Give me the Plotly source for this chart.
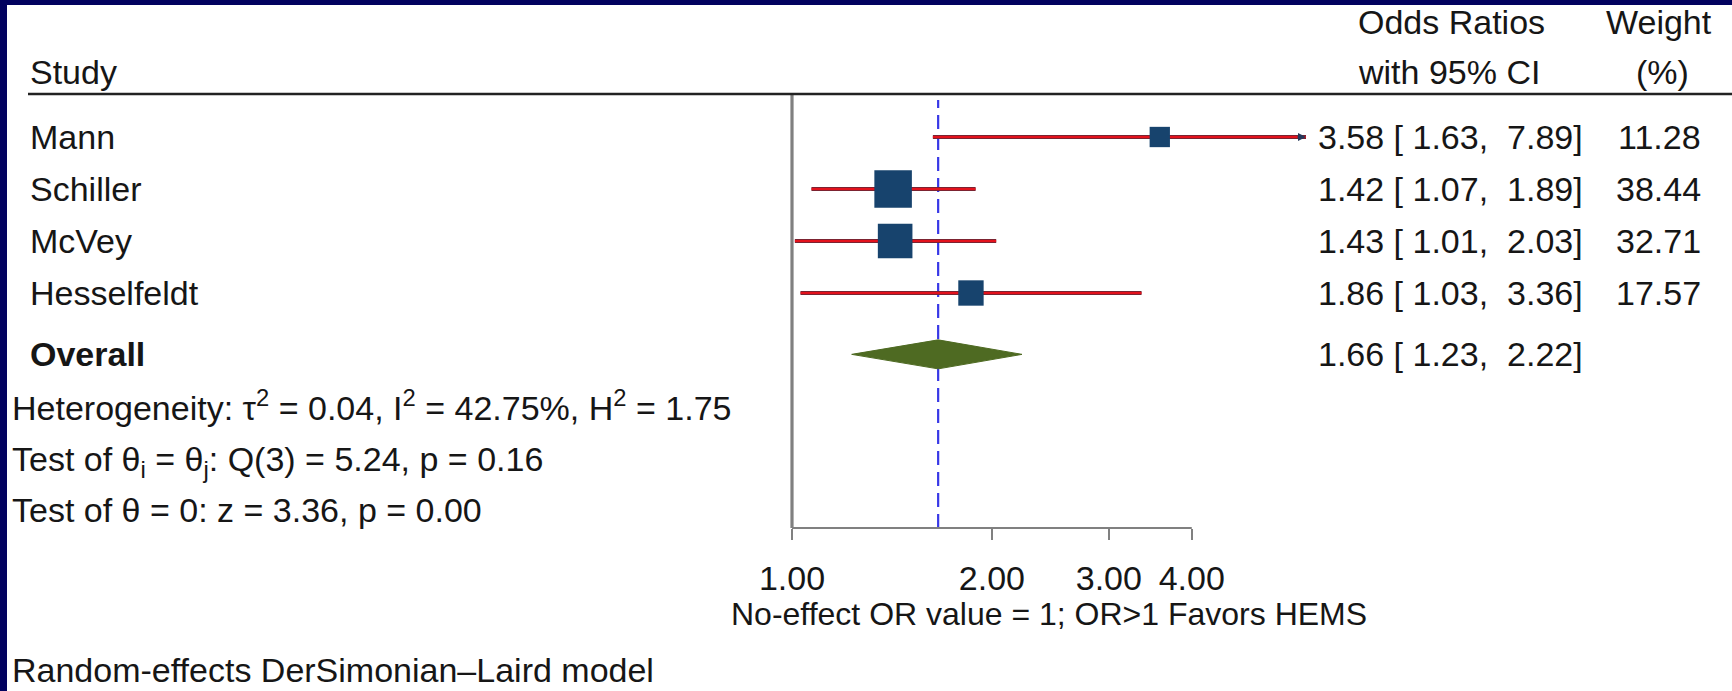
import numpy as np
import plotly.graph_objects as go

# ---------------- data ----------------
studies = ["Mann", "Schiller", "McVey", "Hesselfeldt"]
odds_ratio = [3.58, 1.42, 1.43, 1.86]
ci_low = [1.63, 1.07, 1.01, 1.03]
ci_high = [7.89, 1.89, 2.03, 3.36]
weights = [11.28, 38.44, 32.71, 17.57]

overall_label = "Overall"
overall_or = 1.66
overall_low = 1.23
overall_high = 2.22

tau2 = 0.04
i2 = 42.75
h2 = 1.75
q_df = 3
q_stat = 5.24
q_p = 0.16
z_stat = 3.36
z_p = 0.00

tick_values = [1, 2, 3, 4]
tick_labels = ["1.00", "2.00", "3.00", "4.00"]

# ---------------- layout constants (pixels) ----------------
W, H = 1732, 691
ROW0, ROWSTEP = 137, 52
OVERALL_GAP = 0.18          # extra space (in rows) before the overall line
AX_LEFT, AX_RIGHT, PX_PER_DEC, AX_BOTTOM = 792, 1306, 664, 528
HEADER_Y = 94

FONT = "Liberation Sans, Arial, Helvetica, sans-serif"
FS = 34
TXT = "#161616"
NAVY = "#02025f"
SQ = "#17436d"
RED = "#e3121c"
DARK = "#5a2a38"
GREEN = "#4e6a22"
GRAY = "#808080"


def px(p):
    return p / W


def py(p):
    return 1 - p / H


x_range = [0, (AX_RIGHT - AX_LEFT) / PX_PER_DEC]
y_range = [(AX_BOTTOM - ROW0) / ROWSTEP, -ROW0 / ROWSTEP]
rows = list(range(len(studies)))
overall_row = len(studies) + OVERALL_GAP


def xdom(v):
    """position of an OR value as a fraction of the x-axis domain"""
    return (np.log10(v) - x_range[0]) / (x_range[1] - x_range[0])


fig = go.Figure()

# CI lines (dark edge + red core)
cx, cy = [], []
for r, lo, hi in zip(rows, ci_low, ci_high):
    cx += [lo, hi, None]
    cy += [r, r, None]
fig.add_trace(go.Scatter(x=cx, y=cy, mode="lines", line=dict(color=DARK, width=3.8),
                         hoverinfo="skip", showlegend=False))
fig.add_trace(go.Scatter(x=cx, y=cy, mode="lines", line=dict(color=RED, width=2.6),
                         hoverinfo="skip", showlegend=False))

# weighted squares
fig.add_trace(go.Scatter(
    x=odds_ratio, y=rows, mode="markers",
    marker=dict(symbol="square", size=[6.05 * np.sqrt(w) for w in weights], color=SQ,
                opacity=1, line=dict(width=0)),
    showlegend=False, hoverinfo="skip"))

# overall diamond
hh = 14.5 / ROWSTEP
fig.add_trace(go.Scatter(
    x=[overall_low, overall_or, overall_high, overall_or, overall_low],
    y=[overall_row, overall_row - hh, overall_row, overall_row + hh, overall_row],
    mode="lines", fill="toself", fillcolor=GREEN, line=dict(color=GREEN, width=1),
    showlegend=False, hoverinfo="skip"))

shapes = []
# navy frame
shapes.append(dict(type="rect", xref="paper", yref="paper", x0=0, x1=1, y0=py(5), y1=1,
                   fillcolor=NAVY, line=dict(width=0), layer="above"))
shapes.append(dict(type="rect", xref="paper", yref="paper", x0=0, x1=px(7), y0=0, y1=1,
                   fillcolor=NAVY, line=dict(width=0), layer="above"))
# header rule
shapes.append(dict(type="line", xref="paper", yref="paper", x0=px(28), x1=1,
                   y0=py(HEADER_Y), y1=py(HEADER_Y), line=dict(color="#222222", width=2.5)))
# vertical axis line at OR = 1
shapes.append(dict(type="line", xref="x domain", yref="paper", x0=xdom(tick_values[0]),
                   x1=xdom(tick_values[0]), y0=py(AX_BOTTOM), y1=py(HEADER_Y + 1),
                   line=dict(color=GRAY, width=3.2), layer="below"))
# baseline from first to last tick
shapes.append(dict(type="line", xref="x domain", yref="paper", x0=xdom(tick_values[0]),
                   x1=xdom(tick_values[-1]), y0=py(AX_BOTTOM), y1=py(AX_BOTTOM),
                   line=dict(color=GRAY, width=2)))
# overall effect dashed line
shapes.append(dict(type="line", xref="x domain", yref="paper", x0=xdom(overall_or),
                   x1=xdom(overall_or), y0=py(AX_BOTTOM), y1=py(HEADER_Y + 6),
                   line=dict(color="#3838e6", width=2.2, dash="14px,7px"), layer="below"))

ann = []


def txt(text, x, y, xanchor="left", yref="paper", size=FS):
    ann.append(dict(text=text, x=x, y=y, xref="paper", yref=yref, xanchor=xanchor,
                    yanchor="middle", showarrow=False, font=dict(family=FONT, size=size, color=TXT)))


# headers
txt("Study", px(28), py(72))
txt("Odds Ratios", px(1451), py(22), "center")
txt("with 95% CI", px(1449), py(72), "center")
txt("Weight", px(1659), py(22), "center")
txt("(%)", px(1662), py(72), "center")

# rows
for r, s, o, lo, hi, w in zip(rows, studies, odds_ratio, ci_low, ci_high, weights):
    txt(s, px(28), r, yref="y")
    txt(f"{o:.2f} [ {lo:.2f},  {hi:.2f}]", px(1316), r, yref="y")
    txt(f"{w:.2f}", px(1703), r, "right", yref="y")

txt(f"<b>{overall_label}</b>", px(28), overall_row, yref="y")
txt(f"{overall_or:.2f} [ {overall_low:.2f},  {overall_high:.2f}]", px(1316), overall_row, yref="y")

txt(f"Heterogeneity: τ<sup>2</sup> = {tau2:.2f}, I<sup>2</sup> = {i2:.2f}%, H<sup>2</sup> = {h2:.2f}",
    px(10), py(405))
txt(f"Test of θ<sub>i</sub> = θ<sub>j</sub>: Q({q_df}) = {q_stat:.2f}, p = {q_p:.2f}", px(10), py(461))
txt(f"Test of θ = 0: z = {z_stat:.2f}, p = {z_p:.2f}", px(10), py(510))

txt("No-effect OR value = 1; OR&gt;1 Favors HEMS", px(1049), py(614), "center", size=32)
txt("Random-effects DerSimonian–Laird model", px(10), py(670))

# arrow for truncated CI (Mann)
ann.append(dict(x=x_range[1], y=rows[0], xref="x", yref="y", ax=-10, ay=0, text="",
                showarrow=True, arrowhead=2, arrowsize=1, arrowwidth=1.6, arrowcolor="#24385a",
                standoff=0))

fig.update_layout(
    width=W, height=H,
    margin=dict(l=0, r=0, t=0, b=0, pad=0, autoexpand=False),
    paper_bgcolor="white", plot_bgcolor="rgba(0,0,0,0)",
    showlegend=False,
    shapes=shapes, annotations=ann,
    font=dict(family=FONT, size=FS, color=TXT),
    xaxis=dict(type="log", range=x_range, domain=[px(AX_LEFT), px(AX_RIGHT)],
               tickvals=tick_values, ticktext=tick_labels, ticks="outside", ticklen=11,
               tickwidth=2, tickcolor=GRAY, showgrid=False, zeroline=False, showline=False,
               automargin=False,
               tickfont=dict(family=FONT, size=FS, color=TXT), ticklabelstandoff=9),
    yaxis=dict(range=y_range, domain=[py(AX_BOTTOM), 1], showgrid=False, zeroline=False,
               visible=False, automargin=False),
)

fig.write_html("out.html", config={"displayModeBar": False},
               post_script="document.body.style.margin='0';document.body.style.overflow='hidden';")
